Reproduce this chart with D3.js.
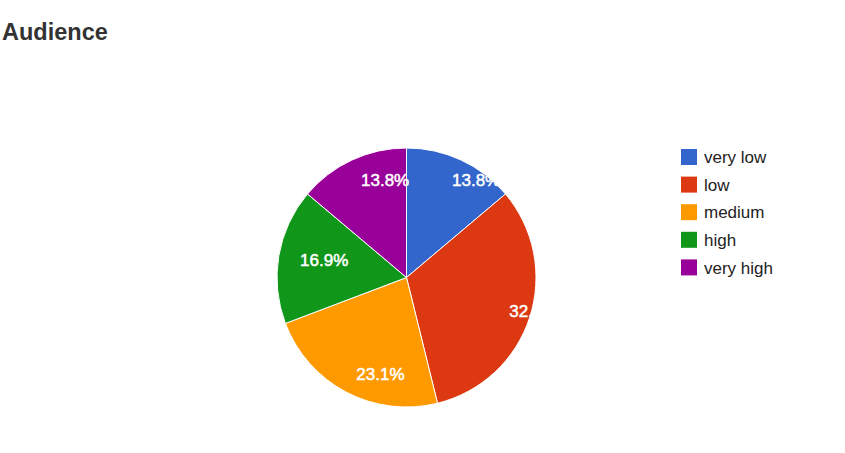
<!DOCTYPE html>
<html>
<head>
<meta charset="utf-8">
<script src="https://cdn.jsdelivr.net/npm/d3@7"></script>
<style>
  html, body { margin: 0; padding: 0; background: #fff; }
  svg { display: block; font-family: "Liberation Sans", Arial, sans-serif; }
</style>
</head>
<body>
<svg id="chart" width="845" height="453"></svg>
<script>
const title = "Audience";
const categories = ["very low", "low", "medium", "high", "very high"];
const counts = [9, 21, 15, 11, 9];
const colors = ["#3366cc", "#dc3912", "#ff9900", "#109618", "#990099"];

const cx = 406.5, cy = 277.5, R = 129.5;
const labelR = 108;

const svg = d3.select("#chart");

svg.append("text")
  .attr("x", 2).attr("y", 40)
  .attr("font-size", 23.5).attr("font-weight", "bold")
  .attr("fill", "#333")
  .text(title);

const total = d3.sum(counts);
const pie = d3.pie().sort(null).value(d => d)(counts);
const arc = d3.arc().innerRadius(0).outerRadius(R);
const labelArc = d3.arc().innerRadius(labelR).outerRadius(labelR);

svg.append("clipPath").attr("id", "pieClip")
  .append("circle").attr("cx", cx).attr("cy", cy).attr("r", R);

const g = svg.append("g").attr("transform", `translate(${cx},${cy})`);
g.selectAll("path.slice").data(pie).join("path")
  .attr("class", "slice")
  .attr("d", arc)
  .attr("fill", (d, i) => colors[i])
  .attr("stroke", "#fff")
  .attr("stroke-width", 1);

const lg = svg.append("g").attr("clip-path", "url(#pieClip)")
  .append("g").attr("transform", `translate(${cx},${cy})`);
lg.selectAll("text").data(pie).join("text")
  .attr("x", d => labelArc.centroid(d)[0])
  .attr("y", d => labelArc.centroid(d)[1] + 0.5)
  .attr("dy", "0.36em")
  .attr("text-anchor", "start")
  .attr("font-size", 17)
  .attr("fill", "#fff")
  .attr("stroke", "#fff")
  .attr("stroke-width", 0.5)
  .text(d => d3.format(".1%")(d.value / total));

const legendX = 681, legendY0 = 149, legendStep = 27.6, sw = 16;
const leg = svg.append("g");
const items = leg.selectAll("g").data(categories).join("g")
  .attr("transform", (d, i) => `translate(${legendX},${legendY0 + i * legendStep})`);
items.append("rect").attr("width", sw).attr("height", sw)
  .attr("fill", (d, i) => colors[i]);
items.append("text")
  .attr("x", 23).attr("y", sw / 2).attr("dy", "0.36em")
  .attr("font-size", 17).attr("fill", "#222")
  .text(d => d);
</script>
</body>
</html>
